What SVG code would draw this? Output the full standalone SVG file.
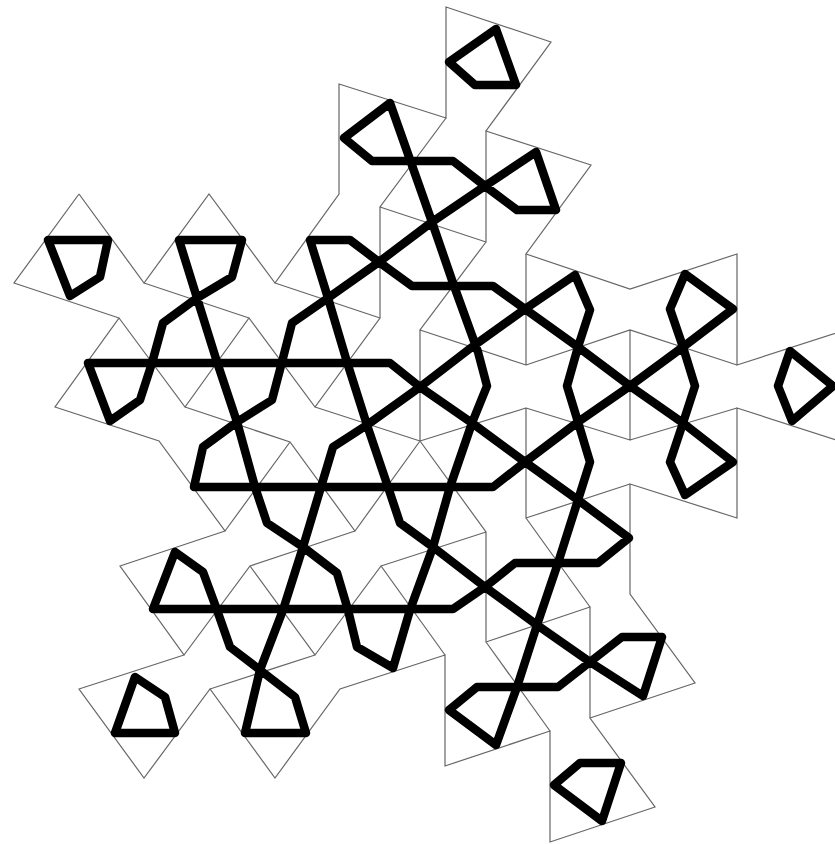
<svg xmlns="http://www.w3.org/2000/svg" width="835" height="844" viewBox="0 0 835 844">
<style>
.t{fill:none;stroke:#666;stroke-width:1.2;stroke-linejoin:miter}
.k{fill:none;stroke:#000;stroke-width:8.5;stroke-linejoin:round}
</style>
<rect width="835" height="844" fill="#fff"/>
<g id="tiles">
<path class="t" d="M79 194L14 283L119 318L55 407L159 441L225 531L120 566L184 655L79 689L144 778L210 689L275 778L340 689L445 655V766L550 731V842L655 807L590 718L695 683L630 594V484L737 518V408L842 442M842 331L737 365V254L630 289L526 254L591 165L486 131L551 42L446 7V118L339 84V194L275 283L209 194L144 283L79 194"/>
<path class="t" d="M119 318L185 407L249 318L315 407L380 318L275 283M144 283L249 318M380 318V207L446 118M380 207L486 242V131M486 242L420 330L526 365V254M526 365L630 330L737 365M630 330V440L526 408V518L630 484M630 440L737 408M526 408L420 441V330M420 441L486 532V642L590 607V718M526 518L590 607M486 642L550 731M420 441L355 531L290 442L185 407M315 407L420 441M290 442L225 531M355 531L250 566L184 655M250 566L315 655L210 689M315 655L381 566L445 655M381 566L486 532"/>
</g>
<g id="loop-main">
<path class="k" d="M390 103L432 222L453 283L478 352L487 386L472 423L450 487L433 547L410 610L393 668L357 647L348 610L337 573L303 547L267 523L255 487L237 422L217 362L197 298L179 240H242L232 277L197 298L163 323L152 363L140 400L110 421L88 363H390L420 387L472 423L525 462L578 500L629 538L598 563H515L485 587L453 609H153L175 552L203 572L217 610L230 647L260 670L295 697L306 733H245L260 670L283 610L303 547L333 447L367 425L420 387L472 347L525 309L575 275L590 310L578 347L567 386L578 422L590 462L578 500L558 563L537 625L517 687L496 745L449 710L477 687H558L590 662L622 637H662L643 696L590 662L537 625L485 587L433 547L400 523L388 487L367 425L347 362L328 298L310 240H350L379 262L412 286H493L525 309L578 347L630 386L683 423L733 462L685 495L670 462L683 423L695 386L683 347L670 309L685 274L733 309L683 347L630 386L578 422L525 462L493 487H194L203 447L237 422L272 400L282 362L292 323L328 298L379 262L432 222L485 186L536 152L556 210H517L485 186L453 161H372L344 138Z"/>
</g>
<g id="loop-left"><path class="k" d="M48 240H108L100 277L70 296Z"/></g>
<g id="loop-bottom-left"><path class="k" d="M135 677L165 697L175 733H115Z"/></g>
<g id="loop-bottom"><path class="k" d="M580 763H621L602 821L554 785Z"/></g>
<g id="loop-right"><path class="k" d="M790 351L833 386L792 421L778 386Z"/></g>
<g id="loop-top"><path class="k" d="M496 29L516 85H475L449 62Z"/></g>
</svg>
